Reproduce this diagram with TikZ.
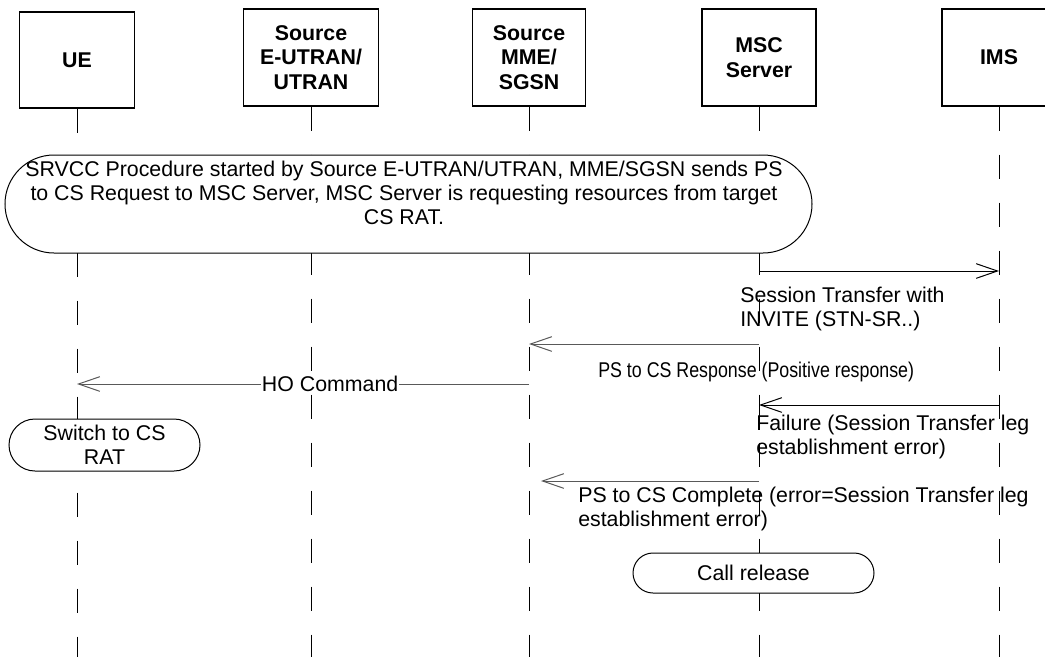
\documentclass[tikz,border=0pt]{standalone}
\usepackage{fontspec}
\setmainfont{Liberation Sans}
\usetikzlibrary{arrows.meta,shapes.misc}
\begin{document}
\begin{tikzpicture}[x=0.75pt,y=-0.75pt,
  every node/.style={font=\fontsize{16}{18}\selectfont},
  hdr/.style={draw,line width=1.1pt,font=\bfseries\fontsize{16}{18.5}\selectfont,align=center,minimum height=72.75pt,inner sep=0pt,fill=white},
  life/.style={line width=0.75pt,dash pattern=on 18.3pt off 17.7pt},
  msg/.style={line width=0.75pt,-{Straight Barb[length=16pt,width=11pt]}},
  msgg/.style={msg,draw=black!65},
  proc/.style={draw,rounded rectangle,line width=0.75pt,fill=white,inner sep=0pt,align=center},
  lbl/.style={inner sep=0pt,align=left,anchor=north west}
]
\useasboundingbox (0,0) rectangle (1045,657);
\clip (0,0) rectangle (1045,657);
% headers
\node[hdr,minimum width=86.25pt,minimum height=72pt] (ue) at (77,60) {UE};
\node[hdr,minimum width=101.25pt] (src) at (311,57.5) {Source\\E-UTRAN/\\UTRAN};
\node[hdr,minimum width=84.75pt] (mme) at (529,57.5) {Source\\MME/\\SGSN};
\node[hdr,minimum width=85.5pt] (msc) at (759,57.5) {MSC\\Server};
\node[hdr,minimum width=85.5pt] (ims) at (999,57.5) {IMS};
% lifelines
\coordinate (bot) at (0,657);
\foreach \n in {ue,src,mme,msc,ims} \draw[life] (\n.south) -- (\n.south |- bot);
% SRVCC procedure
\node[proc,minimum width=605.25pt,minimum height=73.5pt] (srv) at (408.5,204) {};
\node[align=center,inner sep=0pt] (srvt) at (404,193) {SRVCC Procedure started by Source E-UTRAN/UTRAN, MME/SGSN sends PS\\to CS Request to MSC Server, MSC Server is requesting resources from target\\CS RAT.};
% message 1
\coordinate (m1s) at (759,271); \coordinate (m1e) at (999,271);
\draw[msg] (m1s) -- (m1e);
\node[lbl] (t1) at (740,287) {Session Transfer with\\INVITE (STN-SR..)};
% message 2
\coordinate (m2s) at (759,344); \coordinate (m2e) at (529,344);
\draw[msgg] (m2s) -- (m2e);
\node[lbl] (t2) at (598,362) {\scalebox{0.835}[1]{PS to CS Response (Positive response)}};
% message 3
\coordinate (m3s) at (529,384); \coordinate (m3e) at (77,384);
\draw[msgg] (m3s) -- node[pos=0.44,fill=white,inner sep=0.5pt] (t3) {HO Command} (m3e);
% message 4
\coordinate (m4s) at (999,405); \coordinate (m4e) at (759,405);
\draw[msg] (m4s) -- (m4e);
\node[lbl] (t4) at (756,415) {Failure (Session Transfer leg\\establishment error)};
% switch
\node[proc,minimum width=143.25pt,minimum height=39pt] (sw) at (104.5,445) {Switch to CS\\RAT};
% message 5
\coordinate (m5s) at (759,481); \coordinate (m5e) at (541,481);
\draw[msgg] (m5s) -- (m5e);
\node[lbl] (t5) at (578,487) {PS to CS Complete (error=Session Transfer leg\\establishment error)};
% call release
\node[proc,minimum width=180.75pt,minimum height=30pt] (cr) at (753.5,573) {Call release};
\end{tikzpicture}
\end{document}
